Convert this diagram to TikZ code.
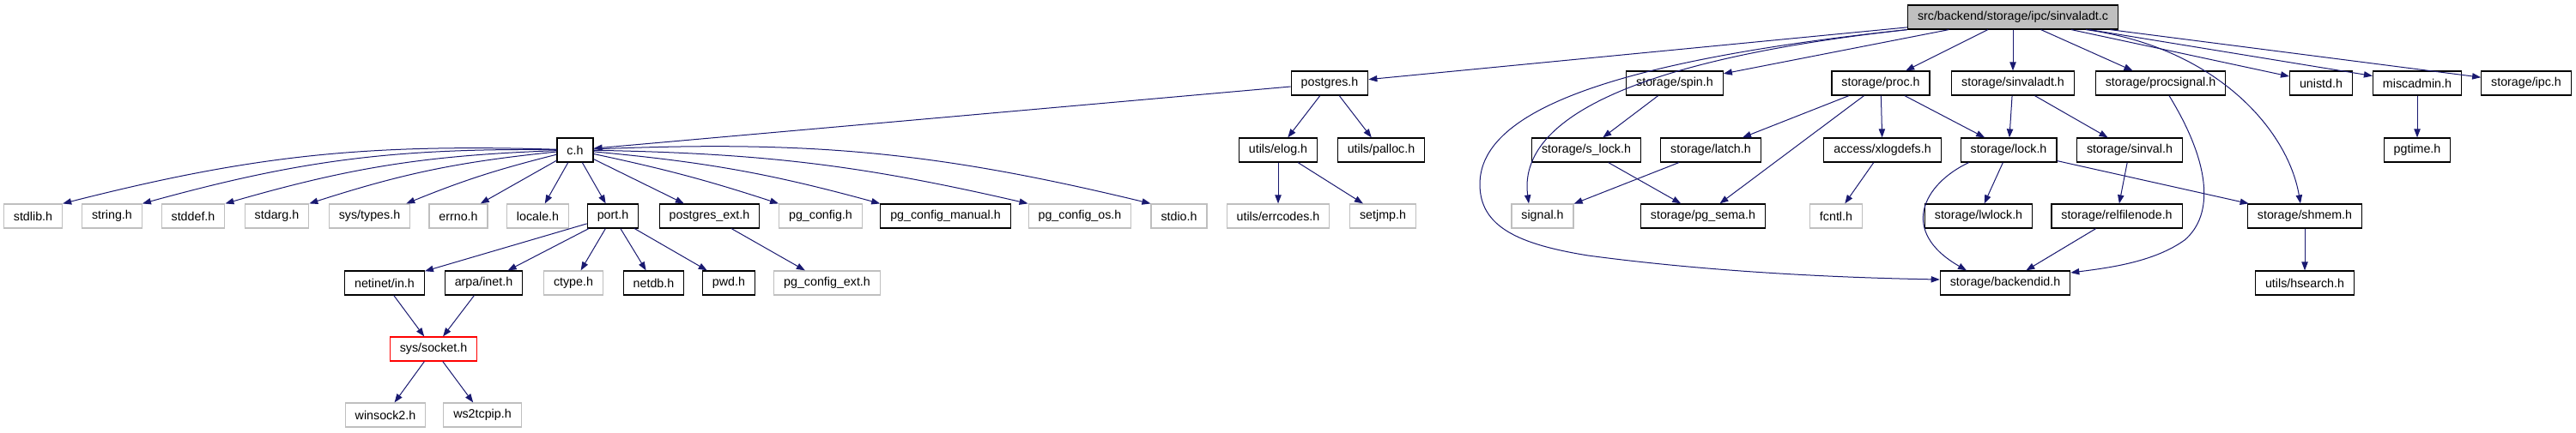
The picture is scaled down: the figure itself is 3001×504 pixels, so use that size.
\documentclass[tikz,border=0pt]{standalone}
\usepackage{fontspec}
\setmainfont{Liberation Sans}
\usetikzlibrary{arrows.meta,calc}

\definecolor{edgeblue}{RGB}{25,25,112}
\definecolor{grey75}{RGB}{191,191,191}

\tikzset{every picture/.style={line width=0.75pt}}
\tikzset{
  hdr/.style={draw=black,line width=0.9pt,inner xsep=8.6pt,inner ysep=0pt,minimum height=21pt,font=\fontsize{10.7}{12}\selectfont},
  syshdr/.style={hdr,draw=grey75},
  cuthdr/.style={hdr,draw=red},
  mainfile/.style={hdr,fill=grey75},
  inc/.style={draw=edgeblue,line width=0.75pt,-{Triangle[length=7.5pt,width=5.5pt]}}
}

\begin{document}
\begin{tikzpicture}[x=0.75pt,y=0.75pt,yscale=-1,xscale=1]
	\useasboundingbox (0,0) rectangle (3001,504);

	% Main file
	\node[mainfile] (root) at (2345,20) {src/backend/storage/ipc/sinvaladt.c};

	% Row 1
	\node[hdr] (postgres) at (1549,97) {postgres.h};
	\node[hdr] (spin) at (1951,97) {storage/spin.h};
	\node[hdr] (proc) at (2191,97) {storage/proc.h};
	\node[hdr] (sinvaladt) at (2345,97) {storage/sinvaladt.h};
	\node[hdr] (procsignal) at (2517,97) {storage/procsignal.h};
	\node[hdr] (unistd) at (2704,97) {unistd.h};
	\node[hdr] (miscadmin) at (2816,97) {miscadmin.h};
	\node[hdr] (ipc) at (2943,97) {storage/ipc.h};

	% Row 2
	\node[hdr] (ch) at (670,175) {c.h};
	\node[hdr] (elog) at (1489,175) {utils/elog.h};
	\node[hdr] (palloc) at (1609,175) {utils/palloc.h};
	\node[hdr] (slock) at (1848,175) {storage/s\_lock.h};
	\node[hdr] (latch) at (1993,175) {storage/latch.h};
	\node[hdr] (xlogdefs) at (2193,175) {access/xlogdefs.h};
	\node[hdr] (lock) at (2340,175) {storage/lock.h};
	\node[hdr] (sinval) at (2481,175) {storage/sinval.h};
	\node[hdr] (pgtime) at (2816,175) {pgtime.h};

	% Row 3
	\node[syshdr] (stdlib) at (38.5,252) {stdlib.h};
	\node[syshdr] (string) at (130.5,252) {string.h};
	\node[syshdr] (stddef) at (225,252) {stddef.h};
	\node[syshdr] (stdarg) at (322.5,252) {stdarg.h};
	\node[syshdr] (systypes) at (430.5,252) {sys/types.h};
	\node[syshdr] (errno) at (534,252) {errno.h};
	\node[syshdr] (locale) at (626.5,252) {locale.h};
	\node[hdr] (port) at (714,252) {port.h};
	\node[hdr] (pgext) at (826.5,252) {postgres\_ext.h};
	\node[syshdr] (pgconfig) at (956,252) {pg\_config.h};
	\node[hdr] (pgmanual) at (1101.5,252) {pg\_config\_manual.h};
	\node[syshdr] (pgos) at (1258,252) {pg\_config\_os.h};
	\node[syshdr] (stdio) at (1373.5,252) {stdio.h};
	\node[syshdr] (errcodes) at (1489,252) {utils/errcodes.h};
	\node[syshdr] (setjmp) at (1611,252) {setjmp.h};
	\node[syshdr] (signal) at (1797,252) {signal.h};
	\node[hdr] (pgsema) at (1984,252) {storage/pg\_sema.h};
	\node[syshdr] (fcntl) at (2139,252) {fcntl.h};
	\node[hdr] (lwlock) at (2305,252) {storage/lwlock.h};
	\node[hdr] (relfilenode) at (2466,252) {storage/relfilenode.h};
	\node[hdr] (shmem) at (2685,252) {storage/shmem.h};

	% Row 4
	\node[hdr] (netinet) at (448,330) {netinet/in.h};
	\node[hdr] (arpainet) at (563.5,330) {arpa/inet.h};
	\node[syshdr] (ctype) at (668,330) {ctype.h};
	\node[hdr] (netdb) at (761.5,330) {netdb.h};
	\node[hdr] (pwd) at (849,330) {pwd.h};
	\node[syshdr] (pgconfigext) at (963.5,330) {pg\_config\_ext.h};
	\node[hdr] (backendid) at (2336,330) {storage/backendid.h};
	\node[hdr] (hsearch) at (2685,330) {utils/hsearch.h};

	% Row 5 and 6
	\node[cuthdr] (socket) at (505,407) {sys/socket.h};
	\node[syshdr] (winsock) at (449,484) {winsock2.h};
	\node[syshdr] (ws2tcpip) at (562,484) {ws2tcpip.h};

	%Straight Lines from main file
	\draw[inc] (root) -- (postgres);
	\draw[inc] (root) -- (spin);
	\draw[inc] (root) -- (proc);
	\draw[inc] (root) -- (sinvaladt);
	\draw[inc] (root) -- (procsignal);
	\draw[inc] (root) -- (unistd);
	\draw[inc] (root) -- (miscadmin);
	\draw[inc] (root) -- (ipc);
	%Curve Lines from main file
	\draw[inc] (root.south west) .. controls (1900,70) and (1768,140) .. ($(signal.north)+(-16,0)$);
	\draw[inc] (root.south west) .. controls (1840,75) and (1724,140) .. (1724,215) .. controls (1724,265) and (1770,285) .. (1850,298) .. controls (2000,318) and (2150,324) .. ($(backendid.west)+(0,-4)$);
	\draw[inc] ($(root.south)+(85,0)$) .. controls (2580,55) and (2665,150) .. ($(shmem.north)+(-5,0)$);

	% postgres.h
	\draw[inc] (postgres) -- (ch);
	\draw[inc] (postgres) -- (elog);
	\draw[inc] (postgres) -- (palloc);

	% c.h
	\draw[inc] (ch) to[bend left=8] (stdlib.north east);
	\draw[inc] (ch) to[bend left=8] (string.north east);
	\draw[inc] (ch) to[bend left=7] (stddef.north east);
	\draw[inc] (ch) to[bend left=6] (stdarg.north east);
	\draw[inc] (ch) to[bend left=4] ($(systypes.north east)+(-5,0)$);
	\draw[inc] (ch) -- (errno);
	\draw[inc] (ch) -- (locale);
	\draw[inc] (ch) -- (port);
	\draw[inc] (ch) -- (pgext);
	\draw[inc] (ch) to[bend right=3] (pgconfig.north west);
	\draw[inc] (ch) to[bend right=5] (pgmanual.north west);
	\draw[inc] (ch) to[bend right=6] (pgos.north west);
	\draw[inc] (ch) to[bend right=8] (stdio.north west);

	% port.h and below
	\draw[inc] (port) -- (netinet);
	\draw[inc] (port) -- (arpainet);
	\draw[inc] (port) -- (ctype);
	\draw[inc] (port) -- (netdb);
	\draw[inc] (port) -- (pwd);
	\draw[inc] (pgext) -- (pgconfigext);
	\draw[inc] (netinet) -- (socket);
	\draw[inc] (arpainet) -- (socket);
	\draw[inc] (socket) -- (winsock);
	\draw[inc] (socket) -- (ws2tcpip);

	% utils/elog.h
	\draw[inc] (elog) -- (errcodes);
	\draw[inc] (elog) -- (setjmp);

	% storage headers
	\draw[inc] (spin) -- (slock);
	\draw[inc] (slock) -- (pgsema);
	\draw[inc] (latch) -- (signal);
	\draw[inc] (proc) -- (latch);
	\draw[inc] (proc) -- (xlogdefs);
	\draw[inc] (proc) -- (lock);
	\draw[inc] (proc) -- (pgsema);
	\draw[inc] (xlogdefs) -- (fcntl);
	\draw[inc] (sinvaladt) -- (lock);
	\draw[inc] (sinvaladt) -- (sinval);
	\draw[inc] (lock) -- (lwlock);
	\draw[inc] (lock) -- (shmem);
	\draw[inc] ($(lock.south west)+(10,0)$) .. controls (2240,215) and (2212,270) .. ($(backendid.north)+(-45,0)$);
	\draw[inc] (sinval) -- (relfilenode);
	\draw[inc] (relfilenode) -- (backendid);
	\draw[inc] ($(procsignal.south)+(10,0)$) .. controls (2575,190) and (2580,250) .. (2545,280) .. controls (2510,305) and (2460,312) .. ($(backendid.east)+(0,-12)$);
	\draw[inc] (miscadmin) -- (pgtime);
	\draw[inc] (shmem) -- (hsearch);

\end{tikzpicture}
\end{document}
